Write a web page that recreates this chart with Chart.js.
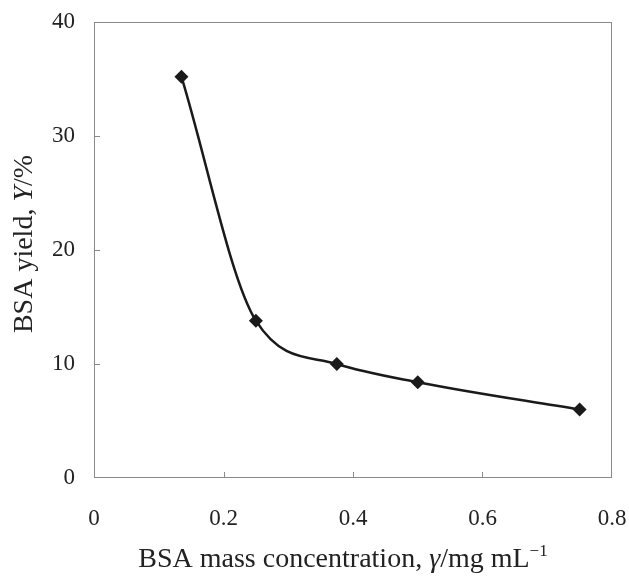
<!DOCTYPE html>
<html>
<head>
<meta charset="utf-8">
<script src="https://cdn.jsdelivr.net/npm/chart.js@4"></script>
<style>
  html, body { margin: 0; padding: 0; background: #fff; }
  #wrap { width: 629px; height: 579px; }
</style>
</head>
<body>
<div id="wrap"><canvas id="c"></canvas></div>
<script>
// BSA yield vs BSA mass concentration
const concentration = [0.135, 0.25, 0.375, 0.5, 0.75];
const yieldPct = [35.2, 13.8, 10.0, 8.4, 6.0];
const xTicks = [0, 0.2, 0.4, 0.6, 0.8];
const yTicks = [0, 10, 20, 30, 40];

const FONT = '"Liberation Serif", "Times New Roman", serif';
const frameColor = '#8a8a8a';
const textColor = '#222';

// box around plot area + inward tick marks
const framePlugin = {
    id: 'frame',
    afterDraw(chart) {
        const { ctx, chartArea: a, scales } = chart;
        ctx.save();
        ctx.strokeStyle = frameColor;
        ctx.lineWidth = 1;
        ctx.strokeRect(a.left + 0.5, a.top + 0.5, a.right - a.left - 1, a.bottom - a.top - 1);
        ctx.beginPath();
        xTicks.slice(1, -1).forEach(v => {
            const x = Math.round(scales.x.getPixelForValue(v)) + 0.5;
            ctx.moveTo(x, a.bottom);
            ctx.lineTo(x, a.bottom - 6);
        });
        yTicks.slice(1, -1).forEach(v => {
            const y = Math.round(scales.y.getPixelForValue(v)) + 0.5;
            ctx.moveTo(a.left, y);
            ctx.lineTo(a.left + 6, y);
        });
        ctx.stroke();
        ctx.restore();
    }
};

// axis titles with italic symbols and superscript
const titlePlugin = {
    id: 'titles',
    afterDraw(chart) {
        const { ctx } = chart;
        const parts = (list, x, y) => {
            list.forEach(p => {
                ctx.font = p.font;
                ctx.fillText(p.t, x, y + (p.dy || 0));
                x += ctx.measureText(p.t).width;
            });
        };
        const measure = list => list.reduce((w, p) => { ctx.font = p.font; return w + ctx.measureText(p.t).width; }, 0);
        const reg = '28px ' + FONT, ital = 'italic 28px ' + FONT, sup = '17px ' + FONT;
        ctx.save();
        ctx.fillStyle = textColor;
        ctx.textBaseline = 'alphabetic';
        ctx.textAlign = 'left';

        const xt = [
            { t: 'BSA mass concentration, ', font: reg },
            { t: 'γ', font: ital },
            { t: '/mg mL', font: reg },
            { t: '−1', font: sup, dy: -11 }
        ];
        parts(xt, 343 - measure(xt) / 2, 567);

        const yt = [
            { t: 'BSA yield, ', font: reg },
            { t: 'Y', font: ital },
            { t: '/%', font: reg }
        ];
        ctx.translate(32, 244);
        ctx.rotate(-Math.PI / 2);
        parts(yt, -measure(yt) / 2, 0);
        ctx.restore();
    }
};

new Chart(document.getElementById('c'), {
    type: 'line',
    plugins: [framePlugin, titlePlugin],
    data: {
        datasets: [{
            data: concentration.map((x, i) => ({ x, y: yieldPct[i] })),
            borderColor: '#1a1a1a',
            backgroundColor: '#1a1a1a',
            borderWidth: 2.5,
            cubicInterpolationMode: 'monotone',
            pointStyle: 'rectRot',
            pointRadius: 7,
            pointBorderWidth: 0,
            clip: false
        }]
    },
    options: {
        responsive: true,
        maintainAspectRatio: false,
        animation: false,
        layout: { padding: { left: 0, right: 17, top: 22, bottom: 0 } },
        plugins: {
            legend: { display: false },
            tooltip: { enabled: false }
        },
        scales: {
            x: {
                type: 'linear',
                min: 0,
                max: 0.8,
                afterBuildTicks: s => { s.ticks = xTicks.map(v => ({ value: v })); },
                afterFit: s => { s.height = 101; s.paddingLeft = 0; s.paddingRight = 0; },
                grid: { display: false, drawTicks: false },
                border: { display: false },
                ticks: {
                    color: textColor,
                    padding: 27,
                    maxRotation: 0,
                    font: { family: FONT, size: 23 },
                    callback: v => String(v)
                }
            },
            y: {
                type: 'linear',
                min: 0,
                max: 40,
                afterBuildTicks: s => { s.ticks = yTicks.map(v => ({ value: v })); },
                afterFit: s => { s.width = 94; s.paddingTop = 0; s.paddingBottom = 0; },
                grid: { display: false, drawTicks: false },
                border: { display: false },
                ticks: {
                    color: textColor,
                    padding: 19,
                    font: { family: FONT, size: 23 }
                }
            }
        }
    }
});
</script>
</body>
</html>
